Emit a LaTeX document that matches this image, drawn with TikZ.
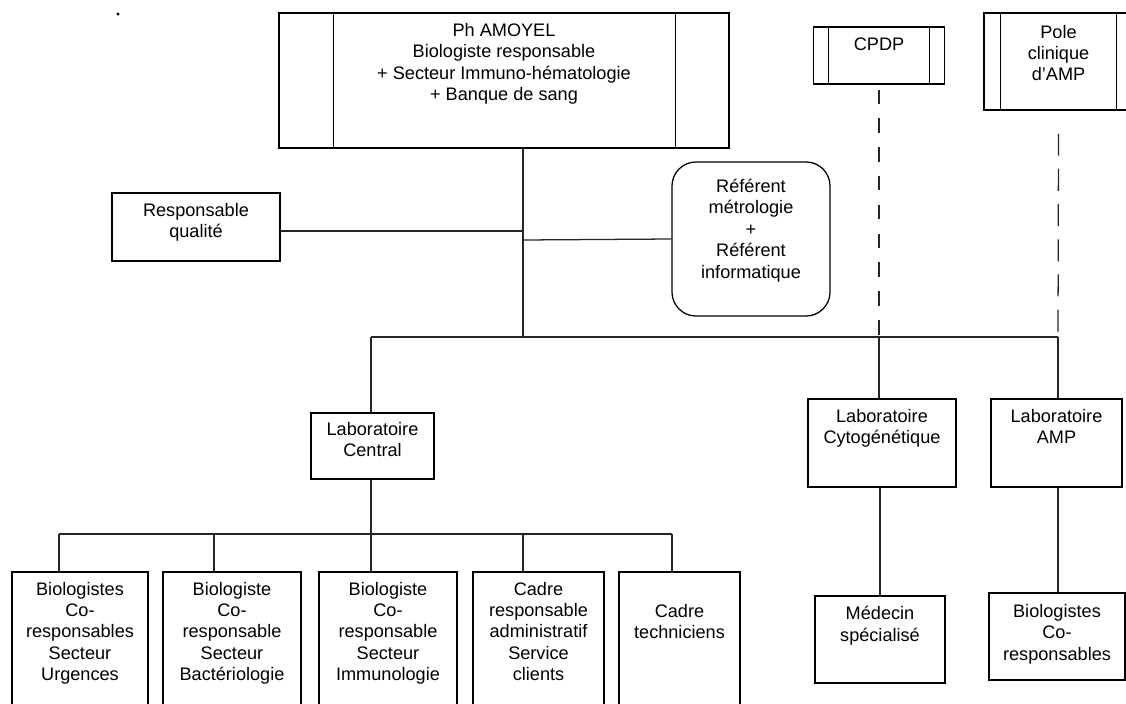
\documentclass[tikz,border=0pt]{standalone}
\usepackage{fontspec}
\setmainfont{Liberation Sans}
\usetikzlibrary{positioning}

% side bars of a "predefined process" box
\newcommand{\procsides}[3]{%
  \draw [line width=0.9pt] ([xshift=#2]#1.north west) -- ([xshift=#2]#1.south west);
  \draw [line width=0.9pt] ([xshift=-#3]#1.north east) -- ([xshift=-#3]#1.south east);}

\begin{document}
\begin{tikzpicture}[x=0.025cm, y=-0.025cm]
\tikzstyle{box} = [rectangle, draw=black, line width=0.9pt, inner sep=0pt]
\tikzstyle{roundbox} = [box, rounded corners=0.6cm]
\tikzstyle{txt} = [inner sep=0pt, align=center, font=\fontsize{12.9}{15.2}\selectfont]
\tikzstyle{line} = [line width=0.9pt, draw=black!85]
\tikzstyle{dashline} = [line, dash pattern=on 0.36cm off 0.36cm]

\useasboundingbox (0,0) rectangle (1126,704);

\fill (118,14) circle [radius=1.1pt];

% top level
\node (amoyel) [box, minimum width=11.25cm, minimum height=3.375cm] at (504,80.5) {};
\node (amoyeltxt) [txt, below=0.27cm of amoyel.north] {Ph AMOYEL\\Biologiste responsable\\+ Secteur Immuno-hématologie\\+ Banque de sang};
\procsides{amoyel}{1.375cm}{1.35cm}

\node (cpdp) [box, minimum width=3.275cm, minimum height=1.425cm] at (879,55.5) {};
\node (cpdptxt) [txt, below=0.27cm of cpdp.north] {CPDP};
\procsides{cpdp}{0.4cm}{0.4cm}

\node (pole) [box, minimum width=3.725cm, minimum height=2.425cm] at (1058.5,61.5) {};
\node (poletxt) [txt, below=0.31cm of pole.north] {Pole\\clinique\\d’AMP};
\procsides{pole}{0.425cm}{0.425cm}

\node (resp) [box, minimum width=4.2cm, minimum height=1.7cm] at (196,227) {};
\node (resptxt) [txt, below=0.26cm of resp.north] {Responsable\\qualité};

\node (referent) [roundbox, minimum width=3.95cm, minimum height=3.85cm] at (751,239) {};
\node (referenttxt) [txt, below=0.44cm of referent.north] {Référent\\métrologie\\+\\Référent\\informatique};

% laboratories
\node (central) [box, minimum width=3.075cm, minimum height=1.65cm] at (372.5,446) {};
\node (centraltxt) [txt, below=0.24cm of central.north] {Laboratoire\\Central};

\node (cyto) [box, minimum width=3.7cm, minimum height=2.2cm] at (882,443) {};
\node (cytotxt) [txt, below=0.27cm of cyto.north] {Laboratoire\\Cytogénétique};

\node (amp) [box, minimum width=3.275cm, minimum height=2.2cm] at (1056.5,443) {};
\node (amptxt) [txt, below=0.27cm of amp.north] {Laboratoire\\AMP};

\node (medecin) [box, minimum width=3.25cm, minimum height=2.175cm] at (880,639.5) {};
\node (medecintxt) [txt, below=0.27cm of medecin.north] {Médecin\\spécialisé};

\node (biocoresp) [box, minimum width=3.4cm, minimum height=2.175cm] at (1057,636.5) {};
\node (biocoresptxt) [txt, below=0.29cm of biocoresp.north] {Biologistes\\Co-\\responsables};

% sectors
\node (urg) [box, minimum width=3.4cm, minimum height=3.7cm] at (80,646) {};
\node (urgtxt) [txt, below=0.26cm of urg.north] {Biologistes\\Co-\\responsables\\Secteur\\Urgences};

\node (bact) [box, minimum width=3.45cm, minimum height=3.7cm] at (232,646) {};
\node (bacttxt) [txt, below=0.26cm of bact.north] {Biologiste\\Co-\\responsable\\Secteur\\Bactériologie};

\node (immuno) [box, minimum width=3.45cm, minimum height=3.7cm] at (388,646) {};
\node (immunotxt) [txt, below=0.26cm of immuno.north] {Biologiste\\Co-\\responsable\\Secteur\\Immunologie};

\node (admin) [box, minimum width=3.275cm, minimum height=3.7cm] at (538.5,646) {};
\node (admintxt) [txt, below=0.26cm of admin.north] {Cadre\\responsable\\administratif\\Service\\clients};

\node (tech) [box, minimum width=3.025cm, minimum height=3.7cm] at (679.5,646) {};
\node (techtxt) [txt, below=0.82cm of tech.north] {Cadre\\techniciens};

% connectors
\coordinate (hub) at (523,337);
\coordinate (qhub) at (523,231);
\coordinate (rhub) at (523,240);
\coordinate (cdrop) at (371,337);
\coordinate (ydrop) at (879,337);
\coordinate (adrop) at (1058,337);

\draw [line] (amoyel.south -| hub) -- (hub);
\draw [line] (qhub -| resp.east) -- (qhub);
\draw [line] (rhub) -- (referent.west);
\draw [line] (cdrop) -- (adrop);
\draw [line] (cdrop) -- (cdrop |- central.north);

\draw [dashline] ([yshift=-0.125cm]cpdp.south) -- (ydrop);
\draw [line] (ydrop) -- (ydrop |- cyto.north);
\draw [line] (cyto.south -| medecin) -- (medecin.north);

\draw [dashline, dash pattern=on 0.55cm off 0.33cm] ([yshift=-0.575cm]pole.south) -- (adrop);
\draw [line] (adrop) -- (adrop |- amp.north);
\draw [line] (amp.south -| adrop) -- (adrop |- biocoresp.north);

\draw [line] (central.south -| cdrop) -- (cdrop |- immuno.north);
\draw [line] (59,534) -- (672,534);
\foreach \x/\n in {59/urg, 214/bact, 523/admin, 672/tech} {
  \coordinate (d\n) at (\x,534);
  \draw [line] (d\n) -- (d\n |- \n.north);
}

\end{tikzpicture}
\end{document}
